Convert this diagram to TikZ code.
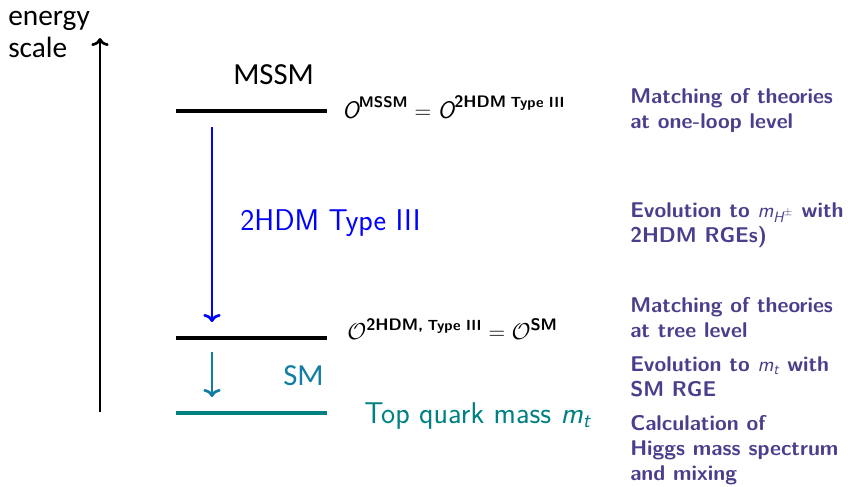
\documentclass[tikz,border=0pt]{standalone}
\usepackage{amsmath}
\usepackage{fontspec}
\newfontfamily\carlito{Carlito}
\usepackage{xcolor}
\usepackage{tikz}
\usetikzlibrary{arrows.meta}
\definecolor{structure}{RGB}{74,63,140}
\definecolor{smteal}{RGB}{0,128,128}
\definecolor{smblue}{RGB}{20,125,165}
\newcommand*{\sfit}[1]{\text{\sffamily\mdseries\itshape #1}}
\newcommand*{\supb}[2]{\text{\fontsize{#1}{#1}\selectfont\sffamily\bfseries #2}}

\begin{document}
\begin{tikzpicture}[x=0.75pt,y=-0.75pt,
  level/.style={line width=2.4pt},
  flow/.style={line width=2pt,-{To[length=6pt,width=13pt]}},
  lbl/.style={inner sep=0pt,anchor=base west},
  big/.style={lbl,font=\fontsize{22.5}{24}\selectfont\sffamily},
  note/.style={lbl,align=left,text=structure,font=\fontsize{16}{18.4}\selectfont\sffamily\bfseries}]
\useasboundingbox(0,0)rectangle(857,486);

\node[lbl,align=left,font=\fontsize{22}{24}\selectfont\carlito](energy)at(8,57){energy\\scale};
\coordinate(ebot)at(100,412);
\coordinate(etop)at(100,38);
\draw[flow](ebot)--(etop);

\node[lbl,font=\fontsize{23}{24}\selectfont\carlito](mssm)at(233,84){MSSM};
\coordinate(mssmL)at(176,111);
\coordinate(mssmR)at(327,111);
\draw[level](mssmL)--(mssmR);
\node[lbl,font=\fontsize{18}{20}\selectfont](match1)at(342,118)
  {$\sfit{O}^{\supb{11.5}{MSSM}}=\sfit{O}^{\supb{12.5}{2HDM}\;\supb{11}{Type III}}$};

\coordinate(thdmtop)at(212,127);
\coordinate(thdmbot)at(212,322);
\draw[flow,blue](thdmtop)--(thdmbot);
\node[big,text=blue](thdm)at(240,230){2HDM Type III};

\coordinate(smL)at(176,338);
\coordinate(smR)at(327,338);
\draw[level](smL)--(smR);
\node[lbl,font=\fontsize{18}{20}\selectfont](match2)at(347,339)
  {$\mathcal{O}^{\supb{12.5}{2HDM,}\;\supb{11}{Type III}}=\mathcal{O}^{\supb{12.5}{SM}}$};

\coordinate(smtop)at(212,352);
\coordinate(smbot)at(212,397);
\draw[flow,smblue](smtop)--(smbot);
\node[lbl,text=smblue,font=\fontsize{23}{24}\selectfont\carlito](sm)at(283,385){SM};

\coordinate(topL)at(176,413);
\coordinate(topR)at(327,413);
\draw[level,smteal](topL)--(topR);
\node[big,text=smteal](top)at(364,423){Top quark mass $\sfit{m}_{\sfit{t}}$};

\node[note](n1)at(630,128){Matching of theories\\at one-loop level};
\node[note](n2)at(630,242){Evolution to $\sfit{m}_{\sfit{H}^{\pm}}$ with\\2HDM RGEs)};
\node[note](n3)at(630,337){Matching of theories\\at tree level};
\node[note](n4)at(630,396){Evolution to $\sfit{m}_{\sfit{t}}$ with\\SM RGE};
\node[note](n5)at(630,480){Calculation of\\Higgs mass spectrum\\and mixing};

\end{tikzpicture}
\end{document}
